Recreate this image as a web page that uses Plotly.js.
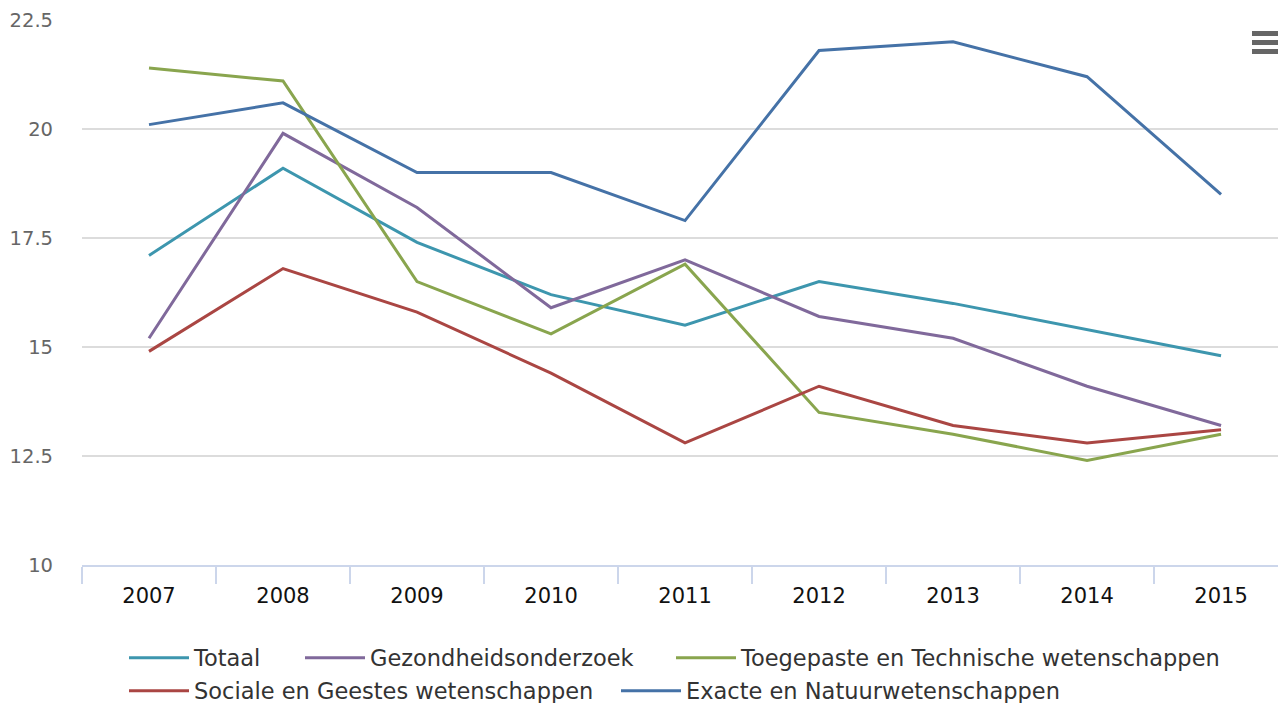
<!DOCTYPE html>
<html>
<head>
<meta charset="utf-8">
<script src="https://cdn.plot.ly/plotly-3.0.1.min.js"></script>
<style>
html,body{margin:0;padding:0;background:#fff;}
#chart{width:1278px;height:703px;}
</style>
</head>
<body>
<div id="chart"></div>
<script>
const years = ["2007","2008","2009","2010","2011","2012","2013","2014","2015"];
const totaal = [17.1, 19.1, 17.4, 16.2, 15.5, 16.5, 16.0, 15.4, 14.8];
const gezondheid = [15.2, 19.9, 18.2, 15.9, 17.0, 15.7, 15.2, 14.1, 13.2];
const toegepast = [21.4, 21.1, 16.5, 15.3, 16.9, 13.5, 13.0, 12.4, 13.0];
const sociaal = [14.9, 16.8, 15.8, 14.4, 12.8, 14.1, 13.2, 12.8, 13.1];
const exact = [20.1, 20.6, 19.0, 19.0, 17.9, 21.8, 22.0, 21.2, 18.5];

const seriesNames = ["Totaal","Gezondheidsonderzoek","Toegepaste en Technische wetenschappen","Sociale en Geestes wetenschappen","Exacte en Natuurwetenschappen"];
const seriesValues = [totaal, gezondheid, toegepast, sociaal, exact];
const seriesColors = ["#3D96AE","#80699B","#89A54E","#AA4643","#4572A7"];
const legendIds = ["legend","legend2","legend3","legend4","legend5"];

const traces = seriesNames.map((n,i)=>({
  type:"scatter", mode:"lines", name:n, x:years, y:seriesValues[i],
  line:{color:seriesColors[i], width:3}, legend:legendIds[i]
}));

const font = "DejaVu Sans, Lucida Grande, sans-serif";
// plot area: left 82, top 20, width 1196, height 545 (pixels)
const px = v => (v-82)/1196;
const py = v => (565-v)/545;
// legend item positions [symbol-left-x, row-center-y]
const legendPos = [[129,658],[305,658],[676,658],[129,691],[621,691]];

const layout = {
  width:1278, height:703,
  margin:{l:82, r:0, t:20, b:138, autoexpand:false},
  paper_bgcolor:"#fff", plot_bgcolor:"#fff",
  showlegend:true,
  font:{family:font, size:20, color:"#333"},
  xaxis:{
    type:"category", range:[-0.5, 8.425],
    showgrid:false, showline:true, linecolor:"#ccd6eb", linewidth:2,
    ticks:"outside", tickson:"boundaries", ticklen:17, tickcolor:"#ccd6eb", tickwidth:2,
    tickfont:{family:font, size:21, color:"#111"}, ticklabelstandoff:11, fixedrange:true, zeroline:false
  },
  yaxis:{
    range:[10,22.5], dtick:2.5, tick0:10,
    showgrid:true, gridcolor:"#dcdcdc", gridwidth:2, zeroline:false, showline:false,
    tickfont:{family:font, size:19.5, color:"#666"}, ticklabelstandoff:28, fixedrange:true
  },
  shapes:[0,1,2].map(k=>({
    type:"line", xref:"paper", yref:"paper",
    x0:px(1252), x1:px(1281),
    y0:py(33.5+9*k), y1:py(33.5+9*k),
    line:{color:"#666", width:5}
  }))
};
legendIds.forEach((id,i)=>{
  layout[id] = {
    orientation:"h", x:px(legendPos[i][0]-5), xanchor:"left",
    y:py(legendPos[i][1]), yanchor:"middle",
    font:{family:font, size:22.5, color:"#333"}, itemwidth:60,
    bgcolor:"rgba(0,0,0,0)", borderwidth:0
  };
});
Plotly.newPlot("chart", traces, layout, {displayModeBar:false, staticPlot:true});
</script>
</body>
</html>
